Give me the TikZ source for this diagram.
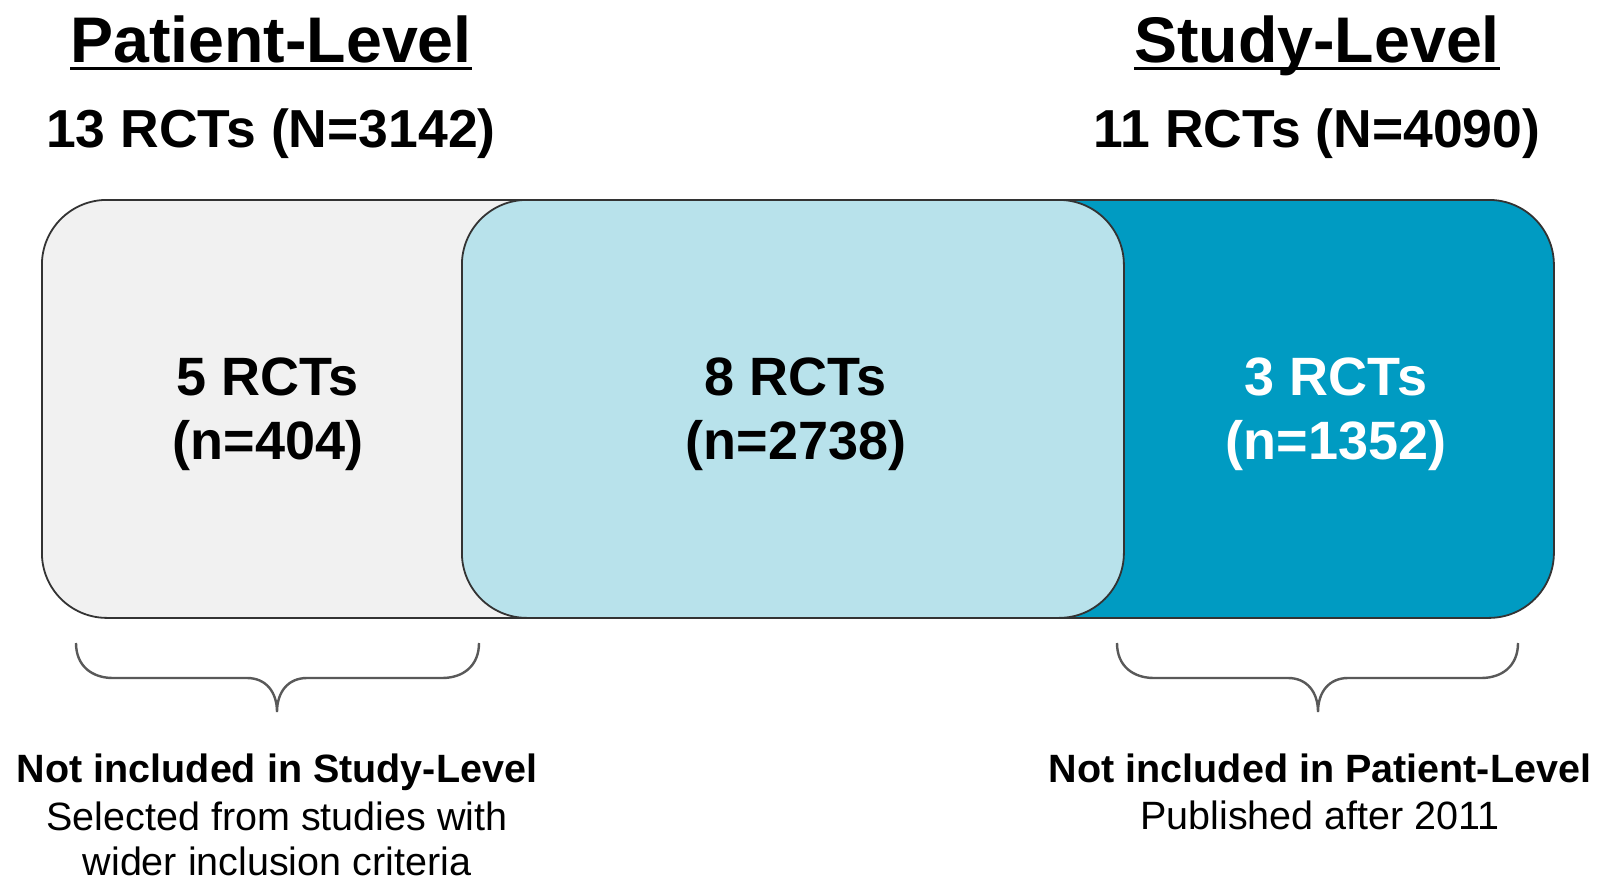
\documentclass[tikz,border=0pt]{standalone}
\usepackage{fontspec}
\setmainfont{Liberation Sans}
\definecolor{grayfill}{HTML}{F1F1F1}
\definecolor{lightblue}{HTML}{B8E2EB}
\definecolor{darkteal}{HTML}{009BC2}
\definecolor{edge}{HTML}{333333}
\definecolor{bracecol}{HTML}{595959}
\begin{document}
\begin{tikzpicture}[x=1pt,y=-1pt,
  box/.style={draw=edge, line width=1.8pt, rounded corners=65pt, anchor=north west, inner sep=0pt},
  big/.style={font=\fontsize{54}{64}\selectfont\bfseries, align=center, inner sep=0pt},
  title/.style={font=\fontsize{64.5}{70}\selectfont\bfseries, inner sep=0pt, anchor=base},
  sub/.style={font=\fontsize{53.5}{60}\selectfont\bfseries, inner sep=0pt, anchor=base},
  note/.style={font=\fontsize{39.5}{46}\selectfont\bfseries, inner sep=0pt, anchor=base},
  plain/.style={font=\fontsize{39.5}{46}\selectfont, inner sep=0pt, anchor=base},
  brace/.style={draw=bracecol, line width=2.4pt}]
\useasboundingbox (0,0) rectangle (1598,880);
\fill[white] (0,0) rectangle (1598,880);

% titles
\node[title] (pl) at (271,63) {Patient-Level};
\draw[line width=3pt] ([yshift=-6pt]pl.base west) -- ([yshift=-6pt]pl.base east);
\node[sub] (plN) at (271,147) {13 RCTs (N=3142)};
\node[title] (sl) at (1317,63) {Study-Level};
\draw[line width=3pt] ([yshift=-6pt]sl.base west) -- ([yshift=-6pt]sl.base east);
\node[sub] (slN) at (1317,147) {11 RCTs (N=4090)};

% boxes
\node[box, fill=grayfill, minimum width=620pt, minimum height=418pt] (gbox) at (41,199) {};
\node[box, fill=darkteal, minimum width=603pt, minimum height=418pt] (dbox) at (950,199) {};
\node[box, fill=lightblue, minimum width=662pt, minimum height=418pt] (mbox) at (461,199) {};

\node[big] (t1) at (268,414) {5 RCTs\\(n=404)};
\node[big] (t2) at (796,414) {8 RCTs\\(n=2738)};
\node[big, text=white] (t3) at (1336,414) {3 RCTs\\(n=1352)};

% braces
\coordinate (b1l) at (76,643);
\coordinate (b1r) at (479,643);
\coordinate (b1t) at (277,712);
\draw[brace] (b1l) .. controls (76,666) and (92,678) .. (113,678) -- (247,678)
  .. controls (266,678) and (277,692) .. (b1t)
  .. controls (277,692) and (288,678) .. (307,678) -- (442,678)
  .. controls (463,678) and (479,666) .. (b1r);
\coordinate (b2l) at (1117,643);
\coordinate (b2r) at (1518,643);
\coordinate (b2t) at (1318,712);
\draw[brace] (b2l) .. controls (1117,666) and (1133,678) .. (1154,678) -- (1288,678)
  .. controls (1307,678) and (1318,692) .. (b2t)
  .. controls (1318,692) and (1329,678) .. (1348,678) -- (1481,678)
  .. controls (1502,678) and (1518,666) .. (b2r);

% bottom notes
\node[note] (n1) at (277,782) {Not included in Study-Level};
\node[plain] (n1a) at (277,830) {Selected from studies with};
\node[plain] (n1b) at (277,875) {wider inclusion criteria};
\node[note] (n2) at (1320,782) {Not included in Patient-Level};
\node[plain] (n2a) at (1320,829) {Published after 2011};
\end{tikzpicture}
\end{document}
